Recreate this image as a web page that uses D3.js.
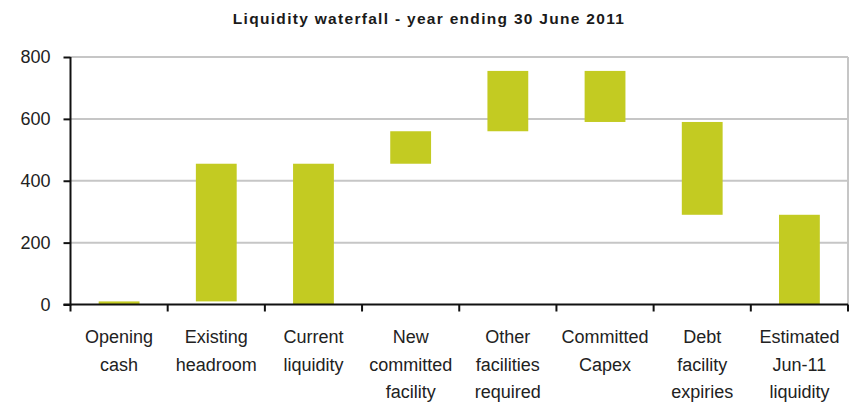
<!DOCTYPE html>
<html>
<head>
<meta charset="utf-8">
<script src="https://cdn.jsdelivr.net/npm/d3@7"></script>
<style>
  html, body { margin: 0; padding: 0; background: #fff; }
  svg { display: block; font-family: "Liberation Sans", Arial, sans-serif; }
</style>
</head>
<body>
<svg id="chart" width="857" height="402"></svg>
<script>
// Waterfall steps: totals start at zero, the rest move the running total.
const categories = [
  ["Opening", "cash"],
  ["Existing", "headroom"],
  ["Current", "liquidity"],
  ["New", "committed", "facility"],
  ["Other", "facilities", "required"],
  ["Committed", "Capex"],
  ["Debt", "facility", "expiries"],
  ["Estimated", "Jun-11", "liquidity"]
];
const changes = [10, 445, 455, 105, 195, -165, -300, 290];
const isTotal = [true, false, true, false, false, false, false, true];
const yTicks = [0, 200, 400, 600, 800];
const title = "Liquidity waterfall - year ending 30 June 2011";

// Build the floating segments
let running = 0;
const steps = changes.map((v, i) => {
  let lo, hi;
  if (isTotal[i]) { lo = 0; hi = v; running = v; }
  else { const start = running; running += v; lo = Math.min(start, running); hi = Math.max(start, running); }
  return { key: i, lo, hi };
});

const svg = d3.select("#chart");
const margin = { left: 70.5, right: 9, top: 57, bottom: 97.5 };
const W = 857, H = 402;

const x = d3.scaleBand()
  .domain(d3.range(categories.length))
  .range([margin.left, W - margin.right])
  .paddingInner(0.58)
  .paddingOuter(0.29);

const y = d3.scaleLinear()
  .domain([0, 800])
  .range([H - margin.bottom, margin.top]);

// Title
svg.append("text")
  .attr("x", 429).attr("y", 24)
  .attr("text-anchor", "middle")
  .attr("font-size", 15.5).attr("font-weight", "bold")
  .attr("letter-spacing", 1.3)
  .attr("fill", "#1a1a1a")
  .text(title);

// Gridlines
svg.append("g")
  .selectAll("line")
  .data(yTicks.filter(d => d > 0))
  .join("line")
  .attr("x1", margin.left).attr("x2", W - margin.right)
  .attr("y1", d => y(d)).attr("y2", d => y(d))
  .attr("stroke", "#c6c6c6").attr("stroke-width", 2);

// Right border of the plot area
svg.append("line")
  .attr("x1", W - margin.right).attr("x2", W - margin.right)
  .attr("y1", y(800)).attr("y2", y(0))
  .attr("stroke", "#c6c6c6").attr("stroke-width", 2);

// Bars
svg.append("g")
  .selectAll("rect")
  .data(steps)
  .join("rect")
  .attr("x", d => x(d.key))
  .attr("width", x.bandwidth())
  .attr("y", d => y(d.hi))
  .attr("height", d => Math.max(1, y(d.lo) - y(d.hi)))
  .attr("fill", "#c3cb22");

// Y axis
const yAxis = svg.append("g")
  .attr("transform", `translate(${margin.left},0)`)
  .call(d3.axisLeft(y).tickValues(yTicks).tickSize(7).tickPadding(13));
yAxis.select(".domain").attr("stroke", "#111").attr("stroke-width", 2).attr("d", `M0,${y(800)}V${y(0) + 1}`);
yAxis.selectAll(".tick line").attr("stroke", "#111").attr("stroke-width", 2);
yAxis.selectAll(".tick text")
  .attr("font-size", 18).attr("fill", "#222")
  .attr("font-family", "'Liberation Sans', Arial, sans-serif");

// X axis with tick marks on the category boundaries
const bounds = d3.range(categories.length + 1).map(i =>
  margin.left + i * (W - margin.right - margin.left) / categories.length);
const xg = svg.append("g");
xg.append("line")
  .attr("x1", margin.left - 7).attr("x2", W - margin.right)
  .attr("y1", y(0)).attr("y2", y(0))
  .attr("stroke", "#111").attr("stroke-width", 2);
xg.selectAll("line.tick")
  .data(bounds)
  .join("line")
  .attr("class", "tick")
  .attr("x1", d => d).attr("x2", d => d)
  .attr("y1", y(0)).attr("y2", y(0) + 7)
  .attr("stroke", "#111").attr("stroke-width", 2);

// Category labels
const labels = xg.selectAll("text.cat")
  .data(categories)
  .join("text")
  .attr("class", "cat")
  .attr("text-anchor", "middle")
  .attr("font-size", 18)
  .attr("fill", "#222")
  .attr("transform", (d, i) => `translate(${x(i) + x.bandwidth() / 2},0)`);
labels.selectAll("tspan")
  .data(d => d)
  .join("tspan")
  .attr("x", 0)
  .attr("y", (d, j) => 343 + j * 27.5)
  .text(d => d);
</script>
</body>
</html>
